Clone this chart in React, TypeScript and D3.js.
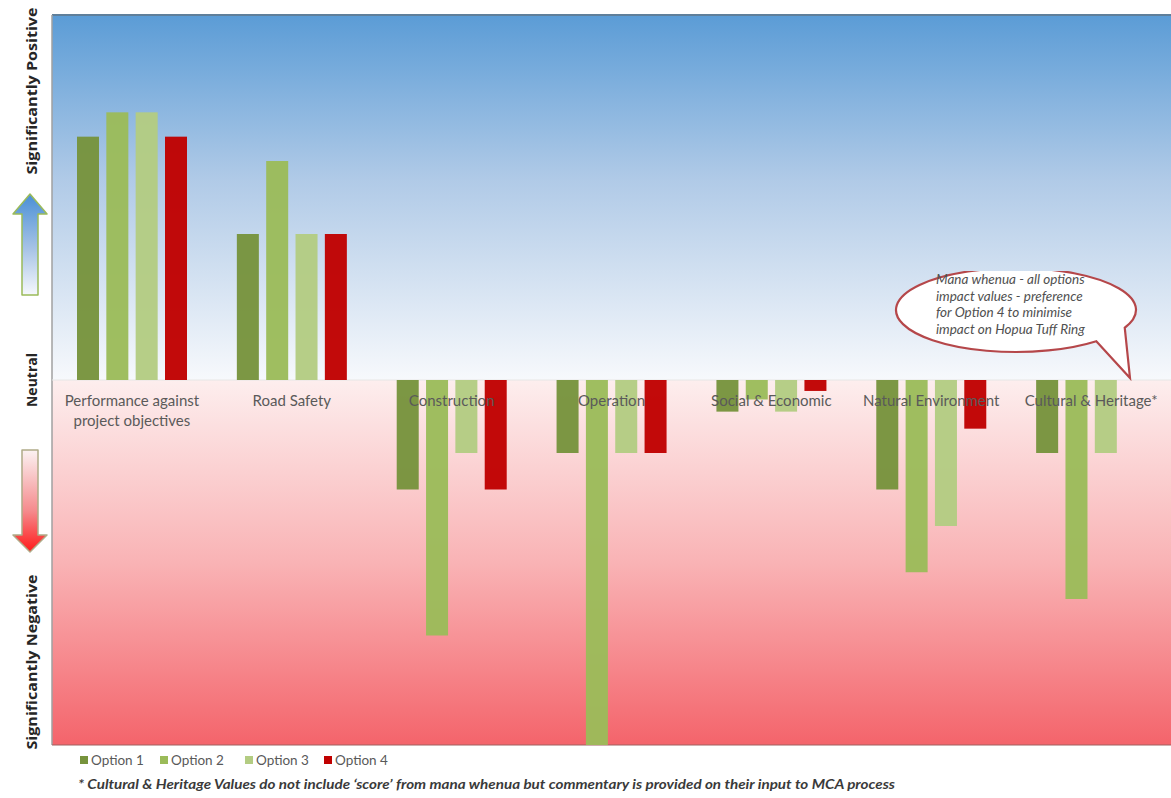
import React from "react";
import * as d3 from "d3";

const categories = [
  ["Performance against", "project objectives"],
  ["Road Safety"],
  ["Construction"],
  ["Operation"],
  ["Social & Economic"],
  ["Natural Environment"],
  ["Cultural & Heritage*"],
];
const seriesNames = ["Option 1", "Option 2", "Option 3", "Option 4"];
const option1 = [10, 6, -4.5, -3, -1.3, -4.5, -3];
const option2 = [11, 9, -10.5, -15, -0.8, -7.9, -9];
const option3 = [11, 6, -3, -3, -1.3, -6, -3];
const option4 = [10, 6, -4.5, -3, -0.45, -2, 0];
const colors = ["#77933c", "#9bbb59", "#b3cc82", "#c00000"];
const calloutLines = [
  "Mana whenua - all options",
  "impact values - preference",
  "for Option 4 to minimise",
  "impact on Hopua Tuff Ring",
];
const footnote =
  "* Cultural & Heritage Values do not include \u2018score\u2019 from mana whenua but commentary is provided on their input to MCA process";

const W = 1171;
const H = 798;
const plot = { left: 52, right: 1171, top: 15, bottom: 745 };
const font = "Lato, 'Open Sans', sans-serif";
const boldFont = "'Open Sans', 'Noto Sans', sans-serif";

export default function App() {
  const series = [option1, option2, option3, option4];
  const x0 = d3
    .scaleBand<number>()
    .domain(d3.range(categories.length))
    .range([plot.left, plot.right])
    .padding(0);
  const x1 = d3
    .scaleBand<number>()
    .domain(d3.range(series.length))
    .range([25, 135])
    .paddingInner(0.25)
    .paddingOuter(0);
  const y = d3.scaleLinear().domain([-15, 15]).range([plot.bottom, plot.top]);
  const y0 = y(0);

  return (
    <svg
      width={W}
      height={H}
      style={{ position: "absolute", left: 0, top: 0, background: "#fff" }}
      fontFamily={font}
    >
      <defs>
        <linearGradient id="posBg" x1="0" y1="0" x2="0" y2="1">
          <stop offset="0" stopColor="#5b9cd6" />
          <stop offset="0.45" stopColor="#b0cae7" />
          <stop offset="1" stopColor="#f7f9fc" />
        </linearGradient>
        <linearGradient id="negBg" x1="0" y1="0" x2="0" y2="1">
          <stop offset="0" stopColor="#fdeeee" />
          <stop offset="0.5" stopColor="#f9b3b5" />
          <stop offset="1" stopColor="#f4646b" />
        </linearGradient>
        <linearGradient id="upArrow" x1="0" y1="0" x2="0" y2="1">
          <stop offset="0" stopColor="#4a8fd6" />
          <stop offset="0.55" stopColor="#a8c4e6" />
          <stop offset="1" stopColor="#f6f8fc" />
        </linearGradient>
        <linearGradient id="downArrow" x1="0" y1="0" x2="0" y2="1">
          <stop offset="0" stopColor="#fbf2f2" />
          <stop offset="0.6" stopColor="#f58a8c" />
          <stop offset="1" stopColor="#ff1a1a" />
        </linearGradient>
        <clipPath id="calloutClip">
          <rect x={860} y={271} width={320} height={120} />
        </clipPath>
      </defs>

      {/* plot background */}
      <rect x={plot.left} y={plot.top} width={plot.right - plot.left} height={y0 - plot.top} fill="url(#posBg)" />
      <rect x={plot.left} y={y0} width={plot.right - plot.left} height={plot.bottom - y0} fill="url(#negBg)" />
      <line x1={plot.left} x2={plot.right} y1={plot.top} y2={plot.top} stroke="#5f7f9a" strokeWidth={2} />
      <line x1={plot.left} x2={plot.left} y1={plot.top} y2={plot.bottom} stroke="#a0a0a0" strokeWidth={1.5} />
      <line x1={plot.left} x2={plot.right} y1={plot.bottom} y2={plot.bottom} stroke="#a06060" strokeWidth={1.2} />
      <line x1={plot.left} x2={plot.right} y1={y0} y2={y0} stroke="#e6e6e6" strokeWidth={1} />

      {/* bars */}
      {series.map((vals, s) =>
        vals.map((v, i) =>
          v === 0 ? null : (
            <rect
              key={`b${s}-${i}`}
              x={x0(i)! + x1(s)!}
              width={x1.bandwidth()}
              y={Math.min(y(v), y0)}
              height={Math.abs(y(v) - y0)}
              fill={colors[s]}
              opacity={0.96}
            />
          )
        )
      )}

      {/* category labels */}
      {categories.map((lines, i) => (
        <text
          key={"c" + i}
          x={x0(i)! + x0.bandwidth() / 2}
          y={406}
          textAnchor="middle"
          fontSize={15}
          fill="#5a5a5a"
        >
          {lines.map((l, j) => (
            <tspan key={j} x={x0(i)! + x0.bandwidth() / 2} dy={j === 0 ? 0 : 20}>
              {l}
            </tspan>
          ))}
        </text>
      ))}

      {/* callout */}
      <g clipPath="url(#calloutClip)">
        <path
          d={(() => {
            const cx = 1016, cy = 310, rx = 120, ry = 42;
            const a1 = (25 * Math.PI) / 180;
            const a2 = (48 * Math.PI) / 180;
            const p1 = [cx + rx * Math.cos(a1), cy + ry * Math.sin(a1)];
            const p2 = [cx + rx * Math.cos(a2), cy + ry * Math.sin(a2)];
            return `M${p1[0]},${p1[1]} A${rx},${ry} 0 1 0 ${p2[0]},${p2[1]} L1130,378 Z`;
          })()}
          fill="#ffffff"
          stroke="#b5474a"
          strokeWidth={2.2}
        />
      </g>
      {calloutLines.map((l, i) => (
        <text key={"cl" + i} x={936} y={284 + i * 16.5} fontSize={13.5} fontStyle="italic" fill="#505050">
          {l}
        </text>
      ))}

      {/* left side labels */}
      <text
        transform={`translate(37,91) rotate(-90)`}
        textAnchor="middle"
        fontSize={14}
        fontWeight="bold"
        fontFamily={boldFont}
        fill="#262626"
        textLength={167}
        lengthAdjust="spacingAndGlyphs"
      >
        Significantly Positive
      </text>
      <text
        transform={`translate(37,380) rotate(-90)`}
        textAnchor="middle"
        fontSize={14}
        fontWeight="bold"
        fontFamily={boldFont}
        fill="#262626"
      >
        Neutral
      </text>
      <text
        transform={`translate(37,662) rotate(-90)`}
        textAnchor="middle"
        fontSize={14}
        fontWeight="bold"
        fontFamily={boldFont}
        fill="#262626"
        textLength={175}
        lengthAdjust="spacingAndGlyphs"
      >
        Significantly Negative
      </text>

      {/* arrows */}
      <path
        d="M30,194 L47,214 L38,214 L38,295 L22,295 L22,214 L13,214 Z"
        fill="url(#upArrow)"
        stroke="#9bbb59"
        strokeWidth={1.5}
        strokeLinejoin="round"
      />
      <path
        d="M22,450 L38,450 L38,535 L47,535 L30,552 L13,535 L22,535 Z"
        fill="url(#downArrow)"
        stroke="#b0aa88"
        strokeWidth={1.5}
        strokeLinejoin="round"
      />

      {/* legend */}
      {seriesNames.map((n, i) => {
        const lx = [80, 160, 245, 324][i];
        return (
          <g key={"lg" + i}>
            <rect x={lx} y={756} width={8} height={8} fill={colors[i]} />
            <text x={lx + 11} y={765} fontSize={13.5} fill="#595959">
              {n}
            </text>
          </g>
        );
      })}

      {/* footnote */}
      <text
        x={78}
        y={789}
        fontSize={12.5}
        fontWeight="bold"
        fontStyle="italic"
        fill="#3a3a3a"
        textLength={817}
        lengthAdjust="spacingAndGlyphs"
      >
        {footnote}
      </text>
    </svg>
  );
}
